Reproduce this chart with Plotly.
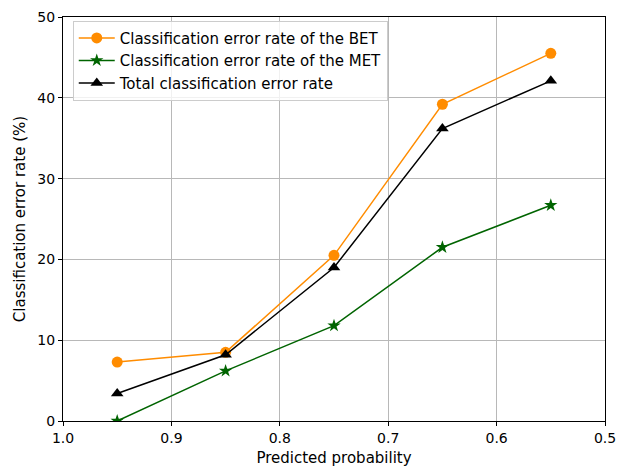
import plotly.graph_objects as go

prob = [0.95, 0.85, 0.75, 0.65, 0.55]
bet_err = [7.3, 8.5, 20.5, 39.2, 45.5]
met_err = [0.0, 6.2, 11.8, 21.5, 26.7]
total_err = [3.4, 8.2, 19.0, 36.2, 42.1]
x_ticks = [1.0, 0.9, 0.8, 0.7, 0.6, 0.5]
y_ticks = [0, 10, 20, 30, 40, 50]

fig = go.Figure()
fig.add_trace(go.Scatter(x=prob, y=bet_err, mode="lines+markers",
                         name="Classification error rate of the BET",
                         line=dict(color="#ff8c00", width=1.5),
                         marker=dict(symbol="circle", size=11, color="#ff8c00")))
fig.add_trace(go.Scatter(x=prob, y=met_err, mode="lines+markers",
                         name="Classification error rate of the MET",
                         line=dict(color="#006400", width=1.5),
                         marker=dict(symbol="star", size=10, color="#006400")))
fig.add_trace(go.Scatter(x=prob, y=total_err, mode="lines+markers",
                         name="Total classification error rate",
                         line=dict(color="black", width=1.5),
                         marker=dict(symbol="triangle-up", size=11, color="black")))

axis_common = dict(showline=True, linecolor="black", linewidth=1.2, mirror=True,
                   ticks="outside", ticklen=4, tickcolor="black",
                   showgrid=True, gridcolor="#b8b8b8", gridwidth=1, zeroline=False,
                   automargin=False, ticklabeloverflow="allow",
                   tickfont=dict(family="DejaVu Sans", size=14, color="black"))

fig.update_layout(
    width=619, height=467,
    margin=dict(l=63, r=14, t=17, b=46),
    paper_bgcolor="white", plot_bgcolor="white",
    font=dict(family="DejaVu Sans", size=15, color="black"),
    showlegend=True,
    legend=dict(x=0.018, y=0.991, xanchor="left", yanchor="top",
                bgcolor="rgba(255,255,255,0.8)", bordercolor="#cccccc", borderwidth=1,
                font=dict(family="DejaVu Sans", size=15), tracegroupgap=0,
                itemwidth=36),
)
fig.update_xaxes(range=[1.0, 0.5], tickvals=x_ticks, tickformat=".1f",
                 title=dict(text="Predicted probability", standoff=8,
                            font=dict(family="DejaVu Sans", size=15)),
                 **axis_common)
fig.update_yaxes(range=[0, 50], tickvals=y_ticks,
                 title=dict(text="Classification error rate (%)", standoff=8,
                            font=dict(family="DejaVu Sans", size=15)),
                 **axis_common)

fig.write_html("out.html", config={"displayModeBar": False},
               post_script="document.body.style.margin='0';")
